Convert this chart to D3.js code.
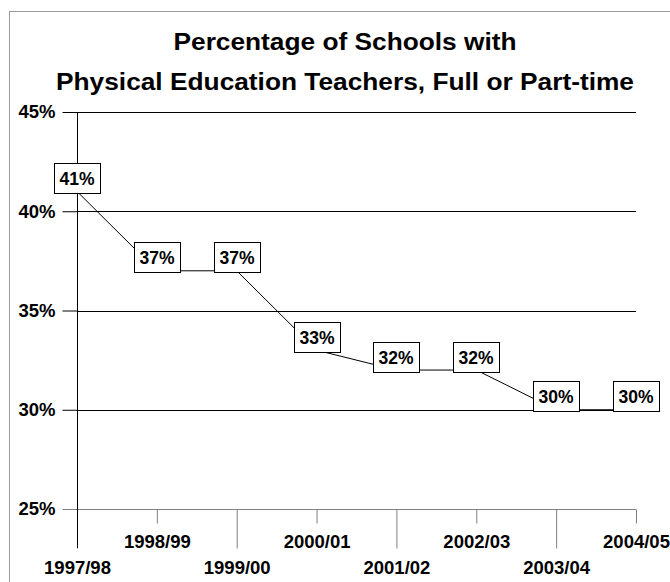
<!DOCTYPE html>
<html>
<head>
<meta charset="utf-8">
<script src="https://cdn.jsdelivr.net/npm/d3@7"></script>
<style>
  html, body { margin: 0; padding: 0; background: #fff; }
  svg { display: block; font-family: "Liberation Sans", Arial, sans-serif; }
</style>
</head>
<body>
<svg id="chart" width="670" height="582"></svg>
<script>
const titleLines = ["Percentage of Schools with", "Physical Education Teachers, Full or Part-time"];
const categories = ["1997/98", "1998/99", "1999/00", "2000/01", "2001/02", "2002/03", "2003/04", "2004/05"];
const values = [41, 37, 37, 33, 32, 32, 30, 30];
const yTicks = [25, 30, 35, 40, 45];

const svg = d3.select("#chart");

// outer border
svg.append("rect")
  .attr("x", 9.5).attr("y", 11.5)
  .attr("width", 720).attr("height", 640)
  .attr("fill", "#fff").attr("stroke", "#9a9a9a").attr("stroke-width", 1);

const x = d3.scalePoint().domain(categories).range([77, 636]).padding(0);
const y = d3.scaleLinear().domain([25, 45]).range([509, 112]);

// title
const titleY = [50, 90];
const titleLen = [343, 578];
svg.selectAll("text.title").data(titleLines).join("text")
  .attr("class", "title")
  .attr("x", 345).attr("y", (d, i) => titleY[i])
  .attr("text-anchor", "middle")
  .attr("font-size", "23.5px").attr("font-weight", "bold")
  .attr("textLength", (d, i) => titleLen[i])
  .attr("lengthAdjust", "spacingAndGlyphs")
  .attr("fill", "#000")
  .text(d => d);

// gridlines
svg.append("g").selectAll("line").data(yTicks.filter(d => d > 25)).join("line")
  .attr("x1", 77).attr("x2", 636)
  .attr("y1", d => Math.round(y(d)) + 0.5).attr("y2", d => Math.round(y(d)) + 0.5)
  .attr("stroke", "#000").attr("stroke-width", 1);

// x axis
const xAxis = svg.append("g")
  .attr("transform", `translate(0,${Math.round(y(25)) + 0.5})`)
  .call(d3.axisBottom(x).tickSize(0).tickPadding(0));
xAxis.select(".domain").attr("stroke", "#808080").attr("d", `M77,0H636`);
xAxis.selectAll(".tick line")
  .attr("stroke", "#808080")
  .attr("y2", (d, i) => i % 2 === 0 ? 39 : 14);
xAxis.selectAll(".tick text")
  .attr("dy", null)
  .attr("y", (d, i) => i % 2 === 0 ? 64 : 38)
  .attr("font-size", "18.5px").attr("font-weight", "bold")
  .attr("font-family", "Liberation Sans, Arial, sans-serif")
  .attr("fill", "#000");

// y axis
const yAxis = svg.append("g")
  .attr("transform", "translate(77.5,0)")
  .call(d3.axisLeft(y).tickValues(yTicks).tickFormat(d => d + "%").tickSize(15).tickPadding(7));
yAxis.select(".domain").remove();
yAxis.selectAll(".tick line").attr("stroke", (d) => d === 25 ? "#808080" : "#000");
yAxis.selectAll(".tick text")
  .attr("font-size", "18.5px").attr("font-weight", "bold")
  .attr("font-family", "Liberation Sans, Arial, sans-serif")
  .attr("fill", "#000");
svg.append("line")
  .attr("x1", 77.5).attr("x2", 77.5)
  .attr("y1", y(45)).attr("y2", y(25) + 39)
  .attr("stroke", "#000").attr("stroke-width", 1);

// data line
const pts = categories.map((c, i) => ({ c, v: values[i] }));
svg.append("path")
  .datum(pts)
  .attr("fill", "none").attr("stroke", "#000").attr("stroke-width", 1)
  .attr("d", d3.line().x(d => x(d.c)).y(d => y(d.v)));

// data labels
const boxW = 46, boxH = 30;
const lab = svg.append("g").selectAll("g").data(pts).join("g")
  .attr("transform", d => `translate(${Math.round(x(d.c))},${Math.round(y(d.v) - 13.5)})`);
lab.append("rect")
  .attr("x", -boxW / 2 + 0.5).attr("y", -boxH / 2 + 0.5)
  .attr("width", boxW).attr("height", boxH)
  .attr("fill", "#fff").attr("stroke", "#000").attr("stroke-width", 1);
lab.append("text")
  .attr("text-anchor", "middle").attr("y", 6.5)
  .attr("font-size", "17.5px").attr("font-weight", "bold")
  .attr("fill", "#000")
  .text(d => d.v + "%");
</script>
</body>
</html>
